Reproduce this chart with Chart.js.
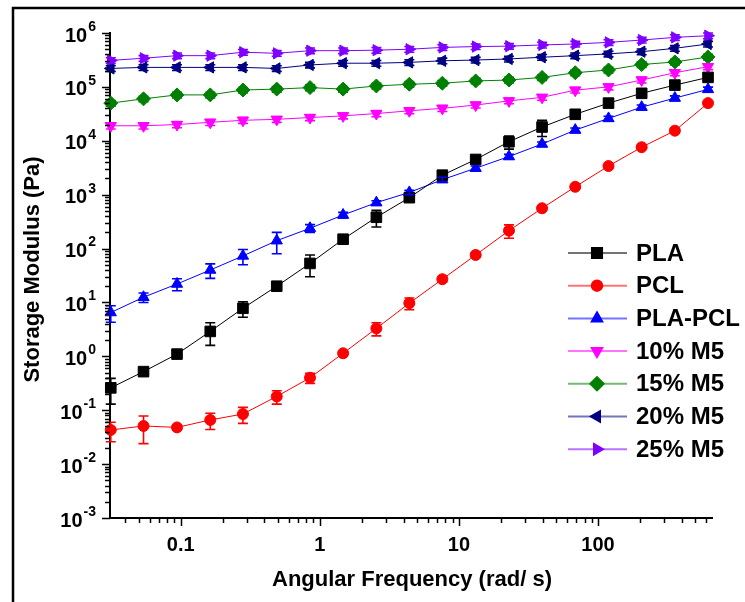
<!DOCTYPE html>
<html>
<head>
<meta charset="utf-8">
<script src="https://cdn.jsdelivr.net/npm/chart.js@4.4.1/dist/chart.umd.min.js"></script>
<style>
  html, body { margin: 0; padding: 0; background: #fff; }
  #wrap { width: 745px; height: 602px; }
</style>
</head>
<body>
<div id="wrap"><canvas id="modulusChart" width="745" height="602"></canvas></div>
<script>
// Angular frequency (rad/s)
const freq = [0.0314, 0.054, 0.094, 0.163, 0.28, 0.49, 0.85, 1.47, 2.55, 4.4,
  7.6, 13.2, 22.9, 39.6, 68.6, 119, 206, 357, 618];

// Storage modulus (Pa) per sample
const pla = [0.26, 0.52, 1.1, 2.9, 7.8, 20, 53, 149, 381, 880,
  2300, 4500, 9600, 18000, 31000, 50000, 76000, 108000, 150000];
const pcl = [0.043, 0.051, 0.048, 0.066, 0.085, 0.18, 0.40, 1.14, 3.3, 9.7,
  27, 76, 215, 560, 1400, 3400, 7600, 15400, 50000];
const plaPcl = [6.5, 12.5, 22, 40, 73, 140, 238, 420, 711, 1100,
  1900, 3100, 5100, 8700, 15800, 26000, 42000, 62000, 90000];
const m5_10 = [19000, 19000, 20000, 22000, 24000, 25000, 27000, 29000, 32000, 36000,
  40000, 46000, 55000, 64000, 87000, 100000, 134000, 183000, 237000];
const m5_15 = [50000, 60000, 71000, 71000, 87500, 91000, 97000, 91000, 104000, 112000,
  117000, 129000, 134000, 150000, 183000, 206000, 260000, 290000, 360000];
const m5_20 = [220000, 230000, 230000, 230000, 230000, 220000, 255000, 275000, 275000, 285000,
  305000, 315000, 330000, 355000, 380000, 410000, 450000, 520000, 625000];
const m5_25 = [310000, 340000, 380000, 380000, 440000, 420000, 470000, 470000, 480000, 500000,
  540000, 560000, 570000, 600000, 625000, 670000, 740000, 830000, 890000];

// Error bars (± Pa)
const plaErr = [0.13, 0.06, 0.12, 1.3, 2.5, 3, 23, 15, 130, 100,
  350, 700, 2600, 6000, 2000, 3000, 4000, 5000, 6000];
const pclErr = [0.017, 0.027, 0.005, 0.022, 0.028, 0.05, 0.085, 0.1, 0.9, 2.4,
  3, 6, 60, 50, 100, 200, 400, 800, 2000];
const plaPclErr = [2.2, 2.5, 5.5, 12, 23, 60, 40, 50, 60, 100,
  200, 300, 500, 800, 1500, 2500, 4000, 6000, 9000];
const m5_10Err = [2500, 2500, 2500, 2800, 3000, 3000, 3300, 3500, 4000, 4300,
  5000, 5500, 6500, 7500, 10000, 12000, 16000, 22000, 28000];
const m5_15Err = [6000, 7000, 8500, 8500, 10000, 11000, 12000, 11000, 12500, 13000,
  14000, 15000, 16000, 18000, 22000, 25000, 31000, 35000, 43000];
const m5_20Err = [26000, 28000, 28000, 28000, 28000, 26000, 30000, 33000, 33000, 34000,
  37000, 38000, 40000, 43000, 46000, 49000, 54000, 62000, 75000];
const m5_25Err = [37000, 41000, 46000, 46000, 53000, 50000, 56000, 56000, 58000, 60000,
  65000, 67000, 68000, 72000, 75000, 80000, 89000, 100000, 107000];

const seriesNames = ["PLA", "PCL", "PLA-PCL", "10% M5", "15% M5", "20% M5", "25% M5"];
const xTickLabels = ["0.1", "1", "10", "100"];
const yExponents = [-3, -2, -1, 0, 1, 2, 3, 4, 5, 6];

const FONT = '"Liberation Sans", Arial, Helvetica, sans-serif';

// build x/y points for a series
function toPoints(values) {
  return values.map(function (v, i) {
    return { x: freq[i], y: v };
  });
}

function makeDataset(label, values, errors, color, style, rotation, radius) {
  return {
    label: label,
    data: toPoints(values),
    errors: errors,
    borderColor: color,
    backgroundColor: color,
    borderWidth: 1,
    pointStyle: style,
    rotation: rotation,
    pointRadius: radius,
    pointHoverRadius: radius,
    pointBorderWidth: 1,
    tension: 0,
    clip: false,
  };
}

const datasets = [
  makeDataset(seriesNames[0], pla, plaErr, "#000000", "rect", 0, 7.5),
  makeDataset(seriesNames[1], pcl, pclErr, "#ff0000", "circle", 0, 5.5),
  makeDataset(seriesNames[2], plaPcl, plaPclErr, "#0000ff", "triangle", 0, 6.5),
  makeDataset(seriesNames[3], m5_10, m5_10Err, "#ff00ff", "triangle", 180, 6.5),
  makeDataset(seriesNames[4], m5_15, m5_15Err, "#008000", "rectRot", 0, 7),
  makeDataset(seriesNames[5], m5_20, m5_20Err, "#000080", "triangle", 270, 6.5),
  makeDataset(seriesNames[6], m5_25, m5_25Err, "#8000ff", "triangle", 90, 6.5),
];

// Draw error bars using the chart scales
const errorBarPlugin = {
  id: "errorBars",
  afterDatasetsDraw(chart) {
    const ctx = chart.ctx;
    const xs = chart.scales.x;
    const ys = chart.scales.y;
    ctx.save();
    ctx.lineWidth = 1.6;
    chart.data.datasets.forEach(function (ds) {
      if (!ds.errors) return;
      ctx.strokeStyle = ds.borderColor;
      ds.data.forEach(function (p, i) {
        const e = ds.errors[i];
        const px = xs.getPixelForValue(p.x);
        const top = ys.getPixelForValue(p.y + e);
        const low = p.y - e > 0 ? ys.getPixelForValue(p.y - e) : chart.chartArea.bottom;
        ctx.beginPath();
        ctx.moveTo(px, top);
        ctx.lineTo(px, low);
        ctx.moveTo(px - 5, top);
        ctx.lineTo(px + 5, top);
        ctx.moveTo(px - 5, low);
        ctx.lineTo(px + 5, low);
        ctx.stroke();
      });
    });
    ctx.restore();
  },
};

// Axes ticks, labels, titles, legend and frame
const decorPlugin = {
  id: "decor",
  afterDraw(chart) {
    const ctx = chart.ctx;
    const xs = chart.scales.x;
    const ys = chart.scales.y;
    const area = chart.chartArea;
    ctx.save();
    ctx.strokeStyle = "#000";
    ctx.fillStyle = "#000";
    ctx.lineWidth = 1.5;

    // y ticks
    yExponents.forEach(function (e) {
      for (let m = 1; m <= 9; m++) {
        const v = m * Math.pow(10, e);
        if (v > ys.max * 1.0001) break;
        const py = Math.round(ys.getPixelForValue(v)) + 0.5;
        const len = m === 1 ? 8 : 5;
        ctx.beginPath();
        ctx.moveTo(area.left - len, py);
        ctx.lineTo(area.left, py);
        ctx.stroke();
      }
      const py = ys.getPixelForValue(Math.pow(10, e));
      const exp = String(e);
      ctx.textBaseline = "middle";
      ctx.textAlign = "right";
      ctx.font = "bold 14px " + FONT;
      const ew = ctx.measureText(exp).width;
      ctx.fillText(exp, area.left - 14, py - 6);
      ctx.font = "bold 20px " + FONT;
      ctx.fillText("10", area.left - 15 - ew, py + 3);
    });

    // x ticks
    for (let e = -2; e <= 2; e++) {
      for (let m = 1; m <= 9; m++) {
        const v = m * Math.pow(10, e);
        if (v < xs.min || v > xs.max) continue;
        const px = Math.round(xs.getPixelForValue(v)) + 0.5;
        const len = m === 1 ? 8 : 5;
        ctx.beginPath();
        ctx.moveTo(px, area.bottom);
        ctx.lineTo(px, area.bottom + len);
        ctx.stroke();
      }
    }
    ctx.font = "bold 20px " + FONT;
    ctx.textAlign = "center";
    ctx.textBaseline = "middle";
    xTickLabels.forEach(function (t) {
      ctx.fillText(t, xs.getPixelForValue(parseFloat(t)), area.bottom + 27);
    });

    // axis titles
    ctx.font = "bold 22px " + FONT;
    ctx.fillText("Angular Frequency (rad/ s)", (area.left + area.right) / 2 + 1, 580);
    ctx.save();
    ctx.translate(33, (area.top + area.bottom) / 2 - 6);
    ctx.rotate(-Math.PI / 2);
    ctx.fillText("Storage Modulus (Pa)", 0, 0);
    ctx.restore();

    // legend
    const rowY = 253;
    const rowGap = 32.7;
    chart.data.datasets.forEach(function (ds, i) {
      const y = rowY + i * rowGap;
      ctx.save();
      ctx.globalAlpha = 0.55;
      ctx.strokeStyle = ds.borderColor;
      ctx.lineWidth = 2;
      ctx.beginPath();
      ctx.moveTo(568, y);
      ctx.lineTo(627, y);
      ctx.stroke();
      ctx.restore();
      ctx.fillStyle = ds.borderColor;
      ctx.strokeStyle = ds.borderColor;
      if (Chart.helpers && Chart.helpers.drawPoint) {
        Chart.helpers.drawPoint(ctx, {
          pointStyle: ds.pointStyle,
          rotation: ds.rotation,
          radius: ds.pointRadius,
          borderWidth: 1,
        }, 597, y);
      }
      ctx.fillStyle = "#000";
      ctx.font = "bold 24px " + FONT;
      ctx.textAlign = "left";
      ctx.textBaseline = "middle";
      ctx.fillText(ds.label, 636, y + 1);
    });

    // outer frame
    ctx.strokeStyle = "#000";
    ctx.lineWidth = 2.5;
    ctx.beginPath();
    ctx.moveTo(13, 602);
    ctx.lineTo(13, 8);
    ctx.lineTo(745, 8);
    ctx.stroke();
    ctx.restore();
  },
};

const ctx = document.getElementById("modulusChart").getContext("2d");
new Chart(ctx, {
  type: "line",
  data: { datasets: datasets },
  options: {
    responsive: false,
    animation: false,
    devicePixelRatio: 1,
    layout: {
      autoPadding: false,
      padding: { left: 110, right: 33, top: 33, bottom: 84 },
    },
    plugins: {
      legend: { display: false },
      tooltip: { enabled: false },
    },
    scales: {
      x: {
        type: "logarithmic",
        min: 0.031,
        max: 660,
        ticks: { display: false },
        grid: { display: false, drawTicks: false, tickLength: 0 },
        border: { display: true, color: "#000", width: 2 },
      },
      y: {
        type: "logarithmic",
        min: 0.001,
        max: 1000000,
        ticks: { display: false },
        grid: { display: false, drawTicks: false, tickLength: 0 },
        border: { display: true, color: "#000", width: 2 },
      },
    },
  },
  plugins: [errorBarPlugin, decorPlugin],
});
</script>
</body>
</html>
